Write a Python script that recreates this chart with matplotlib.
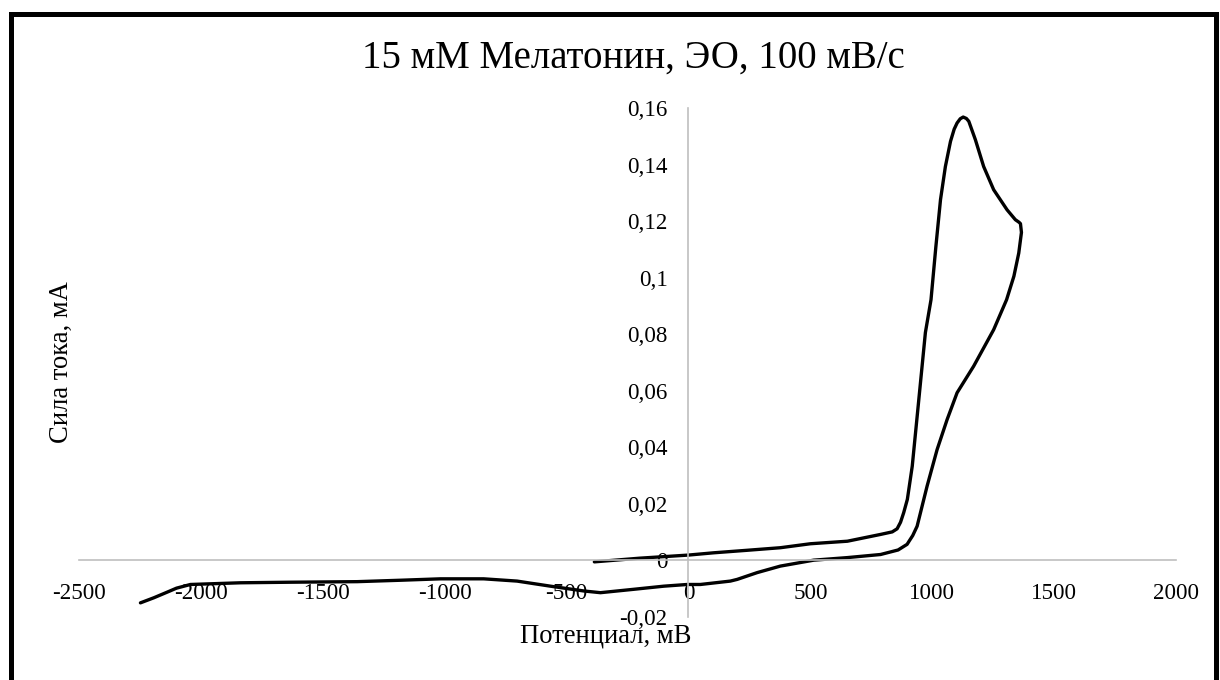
import matplotlib
matplotlib.use('Agg')  # no display here
import matplotlib.pyplot as plt
from matplotlib.patches import Rectangle

# Potential (mV) and current (mA), in drawing order
potential = [-386, -200, 0, 103, 242, 377, 500, 652, 788, 836, 856, 870, 883,
             898, 918, 945, 972, 995, 1015, 1034, 1054, 1075, 1090, 1102,
             1115, 1127, 1140, 1150, 1177, 1211, 1252, 1307, 1341, 1356, 1362,
             1366, 1355, 1335, 1305, 1252, 1170, 1102, 1061, 1020, 979, 938,
             920, 905, 897, 860, 788, 651, 514, 377, 282, 200, 172, 49, -5,
             -101, -224, -361, -429, -566, -703, -840, -1017, -1181, -1359,
             -1633, -1838, -2043, -2100, -2138, -2193, -2248]
current = [-0.0005, 0.0008, 0.0019, 0.0027, 0.0036, 0.0045, 0.0059, 0.0068,
           0.0092, 0.0101, 0.0112, 0.0135, 0.0169, 0.0216, 0.0333, 0.0569,
           0.0806, 0.0922, 0.1110, 0.1276, 0.1393, 0.1482, 0.1525, 0.1547,
           0.1562, 0.1568, 0.1563, 0.1553, 0.1488, 0.1393, 0.1311, 0.1240,
           0.1205, 0.1196, 0.1191, 0.1160, 0.1087, 0.1005, 0.0922, 0.0816,
           0.0687, 0.0593, 0.0498, 0.0392, 0.0263, 0.0121, 0.0088, 0.0068,
           0.0057, 0.0037, 0.0021, 0.0010, 0.0001, -0.0020, -0.0043, -0.0067,
           -0.0073, -0.0085, -0.0085, -0.0091, -0.0102, -0.0114, -0.0108,
           -0.0091, -0.0073, -0.0065, -0.0065, -0.0070, -0.0075, -0.0077,
           -0.0079, -0.0085, -0.0098, -0.0112, -0.0132, -0.0150]

x_ticks = [-2500, -2000, -1500, -1000, -500, 0, 500, 1000, 1500, 2000]
y_ticks = [-0.02, 0, 0.02, 0.04, 0.06, 0.08, 0.1, 0.12, 0.14, 0.16]
y_tick_labels = ['-0,02', '0', '0,02', '0,04', '0,06', '0,08', '0,1',
                 '0,12', '0,14', '0,16']

title = '15 мМ Мелатонин, ЭО, 100 мВ/с'
x_label = 'Потенциал, мВ'
y_label = 'Сила тока, мА'

W, H = 1220, 680
plt.rcParams['font.family'] = ['Liberation Serif', 'DejaVu Serif']

fig = plt.figure(figsize=(W / 100, H / 100), dpi=100)
ax = fig.add_axes([79 / W, 1 - 617 / H, 1097 / W, 509 / H])

ax.plot(potential, current, color='black', linewidth=2.4,
        solid_joinstyle='round', solid_capstyle='round')

ax.set_xlim(-2500, 2000)
ax.set_ylim(-0.02, 0.16)

# Excel-style axes crossing at zero
for side in ['top', 'right']:
    ax.spines[side].set_visible(False)
for side in ['left', 'bottom']:
    ax.spines[side].set_position(('data', 0))
    ax.spines[side].set_color('#BFBFBF')
    ax.spines[side].set_linewidth(1.2)

ax.set_xticks(x_ticks)
ax.set_xticklabels([str(v) for v in x_ticks])
ax.set_yticks(y_ticks)
ax.set_yticklabels(y_tick_labels)
ax.tick_params(axis='both', length=0, labelsize=16.6, colors='black')
ax.tick_params(axis='x', pad=16)
ax.tick_params(axis='y', pad=15)
for lbl in ax.get_yticklabels():
    lbl.set_verticalalignment('center_baseline')

fig.text(633 / W, 1 - 68 / H, title, fontsize=28, ha='center', va='baseline')
fig.text(606 / W, 1 - 643 / H, x_label, fontsize=19.2, ha='center',
         va='baseline')
fig.text(61 / W, 1 - 362 / H, y_label, fontsize=19.2, ha='center',
         va='center', rotation=90)

# thick chart frame
fig.patches.append(Rectangle((10.5 / W, -0.05), 1205 / W, 1.05 - 14 / H,
                             transform=fig.transFigure, fill=False,
                             edgecolor='black', linewidth=3.6))

plt.savefig('out.png', dpi=100)
plt.close()
